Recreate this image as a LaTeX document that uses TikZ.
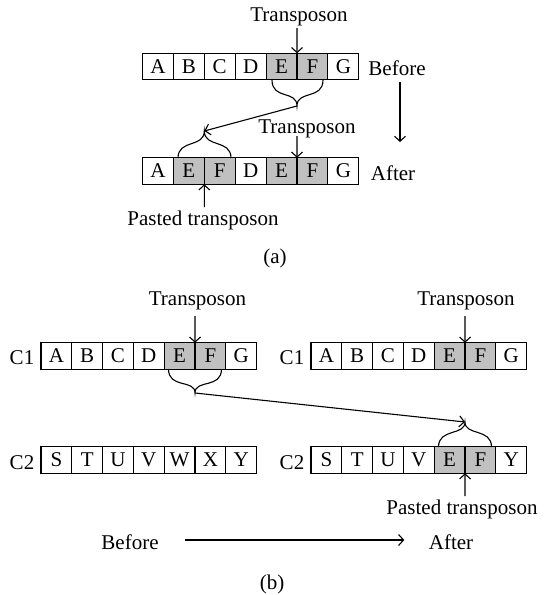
\documentclass[tikz,border=0pt]{standalone}
\usepackage{fontspec}
\setmainfont{Liberation Serif}
\usetikzlibrary{arrows.meta}
\definecolor{shade}{RGB}{192,192,192}
\begin{document}
\begin{tikzpicture}[x=1pt,y=-1pt,
  font=\fontsize{21}{25}\selectfont,
  line width=1.1pt,
  cell/.style={draw, minimum width=30.9pt, minimum height=26.5pt, inner sep=0pt, outer sep=0pt},
  shaded/.style={cell, fill=shade},
  arr/.style={-{Straight Barb[length=5pt,width=11pt]}, line width=1.1pt},
  lbl/.style={inner sep=0pt, anchor=base},
  bracepath/.style={line width=1.1pt}]
\useasboundingbox (0,0) rectangle (551,595);

% ---------------- (a) ----------------
\foreach \t/\s [count=\i] in {A/cell,B/cell,C/cell,D/cell,E/shaded,F/shaded,G/cell}
  \node[\s] (p\i) at ({142.5+30.9*(\i-0.5)},66.5) {\t};
\foreach \t/\s [count=\i] in {A/cell,E/shaded,F/shaded,D/cell,E/shaded,F/shaded,G/cell}
  \node[\s] (q\i) at ({142.5+30.9*(\i-0.5)},171) {\t};

\node[lbl] (ta1) at (299,21) {Transposon};
\node[lbl] (ta2) at (307,133) {Transposon};
\node[lbl] (bfa) at (397,75) {Before};
\node[lbl] (afa) at (393,180) {After};
\node[lbl] (pta) at (203,225) {Pasted transposon};
\node[lbl] (capa) at (275,263) {(a)};

\coordinate (ta1s) at (297,28);
\coordinate (ta2s) at (297,136);
\coordinate (ptas) at (204.3,207);
\draw[arr] (ta1s) -- (p5.north east);
\draw[arr] (ta2s) -- (q5.north east);
\draw[arr] (ptas) -- (q2.south east);

\coordinate (dn1) at (400,82);
\coordinate (dn2) at (400,142);
\draw[arr] (dn1) -- (dn2);

% brace under top E-F
\coordinate (bt1) at (297,106);
\draw[bracepath] (272,80) .. controls (272,100) and (297,90) .. (bt1)
                          .. controls (297,90) and (323,100) .. (323,80);
% brace above pasted E-F
\coordinate (bt2) at (204.3,131);
\draw[bracepath] (178,158) .. controls (178,139) and (204.3,148) .. (bt2)
                          .. controls (204.3,148) and (231,139) .. (231,158);
\draw[arr] (bt1) -- (bt2);

% ---------------- (b) ----------------
\foreach \t/\s [count=\i] in {A/cell,B/cell,C/cell,D/cell,E/shaded,F/shaded,G/cell}
  \node[\s] (l\i) at ({41+30.8*(\i-0.5)},356) {\t};
\foreach \t/\s [count=\i] in {A/cell,B/cell,C/cell,D/cell,E/shaded,F/shaded,G/cell}
  \node[\s] (r\i) at ({311+30.8*(\i-0.5)},356) {\t};
\foreach \t/\s [count=\i] in {S/cell,T/cell,U/cell,V/cell,W/cell,X/cell,Y/cell}
  \node[\s] (m\i) at ({41+30.8*(\i-0.5)},460) {\t};
\foreach \t/\s [count=\i] in {S/cell,T/cell,U/cell,V/cell,E/shaded,F/shaded,Y/cell}
  \node[\s] (n\i) at ({311+30.8*(\i-0.5)},460) {\t};

\node[lbl] (c1l) at (22,364) {C1};
\node[lbl] (c1r) at (292,364) {C1};
\node[lbl] (c2l) at (22,469) {C2};
\node[lbl] (c2r) at (292,469) {C2};

\node[lbl] (tb1) at (197.5,305) {Transposon};
\node[lbl] (tb2) at (466,305) {Transposon};
\node[lbl] (ptb) at (462,514) {Pasted transposon};
\node[lbl] (bfb) at (130,549) {Before};
\node[lbl] (afb) at (451,549) {After};
\node[lbl] (capb) at (272,589) {(b)};

\coordinate (tb1s) at (195,316);
\coordinate (tb2s) at (465,316);
\coordinate (ptbs) at (465,496);
\draw[arr] (tb1s) -- (l5.north east);
\draw[arr] (tb2s) -- (r5.north east);
\draw[arr] (ptbs) -- (n5.south east);

% brace under left C1 E-F
\coordinate (bt3) at (195,393);
\draw[bracepath] (168.5,369) .. controls (168.5,389) and (195,379) .. (bt3)
                            .. controls (195,379) and (221.5,389) .. (221.5,369);
% brace above right C2 E-F
\coordinate (bt4) at (465,422);
\draw[bracepath] (438.5,447) .. controls (438.5,428) and (465,436) .. (bt4)
                            .. controls (465,436) and (491.5,428) .. (491.5,447);
\draw[arr] (bt3) -- (bt4);

\draw[arr, shorten <=26pt, shorten >=24pt] (bfb.east |- 0,540) -- (afb.west |- 0,540);
\end{tikzpicture}
\end{document}
